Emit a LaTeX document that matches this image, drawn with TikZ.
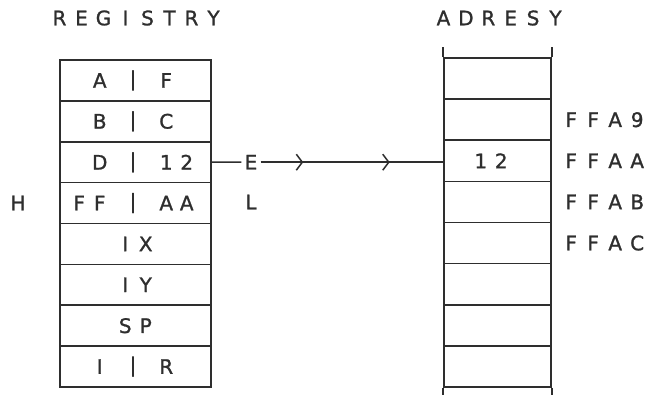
\documentclass[tikz,border=0pt]{standalone}
\usepackage{fontspec}
\setmainfont[FakeBold=1.2]{DejaVu Sans}
\usetikzlibrary{arrows.meta,decorations.markings}
\definecolor{ink}{gray}{0.18}
\makeatletter
\newcommand\spacedtxt[2][20.5]{\def\spaced@w{#1pt}\spaced@loop#2\relax}
\def\spaced@loop#1{\ifx#1\relax\else\makebox[\spaced@w]{#1}\expandafter\spaced@loop\fi}
\makeatother
\newcommand\regbar{\raisebox{2pt}{\smash{|}}}
\newcommand\pairlab[2]{\makebox[40pt][r]{\spacedtxt{#1}}\makebox[46pt]{\regbar}\makebox[45pt][l]{\spacedtxt{#2}}}
\begin{document}
\begin{tikzpicture}[x=1pt,y=-1pt,
  every node/.style={font=\fontsize{20}{20}\selectfont, text=ink},
  regcell/.style={draw=ink, line width=1.6pt, minimum width=151pt, minimum height=40.9pt, inner sep=0pt},
  memcell/.style={draw=ink, line width=1.6pt, minimum width=107pt, minimum height=41.1pt, inner sep=0pt},
  conn/.style={draw=ink, line width=1.5pt},
  lbl/.style={inner sep=0pt},
  addr/.style={inner sep=0pt, anchor=west}]
\fill[white] (0,0) rectangle (650,394);
\useasboundingbox (0,0) rectangle (650,394);
% titles
\node[lbl] (tregs) at (136.5,18) {\spacedtxt[22]{REGISTRY}};
\node[lbl] (taddr) at (499.5,18) {\spacedtxt[22.4]{ADRESY}};
% register column
\foreach \i/\lab in {1/{\pairlab{A}{F}},2/{\pairlab{B}{C}},3/{\pairlab{D}{12}},4/{\pairlab{FF}{AA}},
                     5/{\spacedtxt{IX}},6/{\spacedtxt{IY}},7/{\spacedtxt{SP}},8/{\pairlab{I}{R}}}{
  \node[regcell] (r\i) at (135.5,{60+40.875*(\i-0.5)}) {\lab};
}
% memory column
\foreach \i in {1,...,8}{
  \node[memcell] (m\i) at (497.5,{58+41.125*(\i-0.5)}) {};
}
\node[lbl] (m3t) at (491,160.8) {\spacedtxt{12}};
\draw[conn] (m1.north west) -- ++(0,-10);
\draw[conn] (m1.north east) -- ++(0,-10);
\draw[conn] (m8.south west) -- ++(0,8);
\draw[conn] (m8.south east) -- ++(0,8);
% side labels
\node[lbl] (H) at (18,203) {H};
\node[lbl] (L) at (251,202) {L};
\node[inner sep=3pt] (E) at (251,162.2) {E};
% addresses
\node[addr] (a9) at (560,119.7) {\spacedtxt[22]{FFA9}};
\node[addr] (aa) at (560,160.8) {\spacedtxt[22]{FFAA}};
\node[addr] (ab) at (560,201.9) {\spacedtxt[22]{FFAB}};
\node[addr] (ac) at (560,243) {\spacedtxt[22]{FFAC}};
% connector
\draw[conn] (r3.east) -- (E.west);
\draw[conn, postaction={decorate}, decoration={markings,
   mark=at position 0.234 with {\arrow{Straight Barb[length=6pt,width=16pt,line width=1.5pt]}},
   mark=at position 0.707 with {\arrow{Straight Barb[length=6pt,width=16pt,line width=1.5pt]}}}]
   (E.east) -- (E.east -| m3.west);
\end{tikzpicture}
\end{document}
